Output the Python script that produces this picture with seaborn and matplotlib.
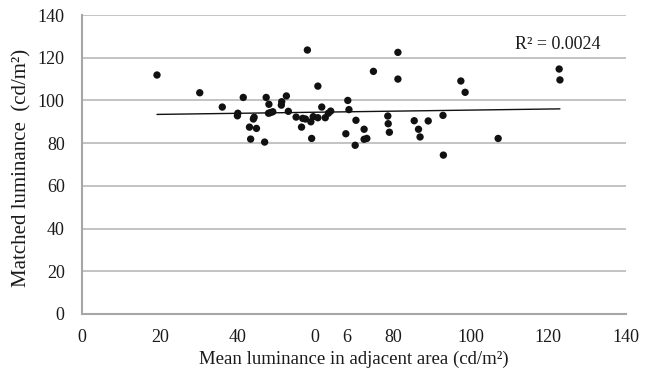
import numpy as np
import pandas as pd
import matplotlib
matplotlib.use("Agg")
import matplotlib.pyplot as plt
import seaborn as sns

# Data
mean_adjacent = [19.3, 30.3, 36.1, 40.1, 40.0, 41.5, 44.1, 44.3, 43.1, 44.9,
                 43.4, 47.0, 47.4, 48.1, 48.0, 49.1, 48.5, 51.3, 51.4, 52.6,
                 53.1, 55.1, 56.5, 56.8, 57.5, 58.0, 58.9, 59.5, 60.7, 60.7,
                 59.1, 61.7, 62.6, 63.4, 64.0, 68.4, 68.7, 70.5, 67.9, 70.3,
                 72.6, 72.6, 73.3, 75.0, 78.7, 78.8, 79.1, 81.3, 81.3, 85.5,
                 86.6, 87.0, 89.1, 92.9, 93.0, 97.5, 98.6, 107.1, 122.8, 123.0]
matched = [111.9, 103.6, 96.9, 94.0, 92.8, 101.4, 91.3, 92.1, 87.5, 86.9,
           81.9, 80.5, 101.4, 98.2, 94.0, 94.7, 94.3, 97.8, 99.4, 102.1,
           94.9, 92.2, 87.5, 91.6, 91.3, 123.6, 90.0, 92.4, 91.9, 106.7,
           82.2, 96.9, 91.9, 94.0, 95.0, 100.0, 95.7, 90.7, 84.4, 79.0,
           86.5, 81.8, 82.2, 113.6, 92.7, 89.1, 85.1, 122.5, 110.0, 90.5,
           86.5, 82.9, 90.4, 93.0, 74.4, 109.1, 103.8, 82.2, 114.7, 109.6]

x_ticks = [0, 20, 40, 60, 80, 100, 120, 140]
x_tick_labels = ["0", "20", "40", "0", "80", "100", "120", "140"]
extra_label = "6"
extra_label_pos = 68.2
y_ticks = [0, 20, 40, 60, 80, 100, 120, 140]
r2_text = "R² = 0.0024"
x_label = "Mean luminance in adjacent area (cd/m²)"
y_label = "Matched luminance  (cd/m²)"

df = pd.DataFrame({"x": mean_adjacent, "y": matched})

sns.set_theme(style="white")
plt.rcParams["font.family"] = ["Liberation Serif", "DejaVu Serif"]

FS = 13
TXT = "#1a1a1a"

fig = plt.figure(figsize=(6.53, 3.76), dpi=100)
ax = fig.add_axes([82 / 653, 62 / 376, 544 / 653, 299 / 376])

for yv in y_ticks[1:]:
    ax.axhline(yv, color="#b3b3b3", lw=1.1, zorder=0)

sns.regplot(data=df, x="x", y="y", ax=ax, ci=None, truncate=True,
            scatter_kws=dict(s=28, color="#111111", edgecolor="none",
                             alpha=1.0, zorder=3),
            line_kws=dict(color="#111111", lw=1.0, zorder=2))

ax.set_xlim(0, 140)
ax.set_ylim(0, 140)
ax.set_xticks(x_ticks)
ax.set_xticklabels(x_tick_labels)
ax.set_yticks(y_ticks)

for s in ["top", "right"]:
    ax.spines[s].set_visible(False)
for s in ["left", "bottom"]:
    ax.spines[s].set_color("#a6a6a6")
    ax.spines[s].set_linewidth(1.5)

ax.tick_params(axis="both", which="major", direction="out", length=4,
               width=1.0, color="#a6a6a6", labelsize=FS, labelcolor=TXT)
ax.tick_params(axis="x", pad=7)
ax.tick_params(axis="y", pad=8.5)
ax.grid(False)

ax.text(extra_label_pos, 0, extra_label, transform=ax.get_xaxis_transform(),
        fontsize=FS, color=TXT, ha="center", va="top")

ax.set_xlabel(x_label, fontsize=13.5, color=TXT, labelpad=3)
ax.set_ylabel(y_label, fontsize=15, color=TXT, labelpad=2)
ax.yaxis.set_label_coords(-0.093, 0.49)

ax.text(122.5, 126, r2_text, fontsize=FS, color=TXT, ha="center", va="center")

fig.canvas.draw()
# align the extra "6" with the tick labels vertically
lbl = ax.get_xticklabels()[3]
bb = lbl.get_window_extent()
inv = ax.transAxes.inverted()
ytop = inv.transform((0, bb.y1))[1]
for t in ax.texts:
    if t.get_text() == extra_label:
        t.set_position((extra_label_pos, ytop))

fig.savefig("out.png", dpi=100)
